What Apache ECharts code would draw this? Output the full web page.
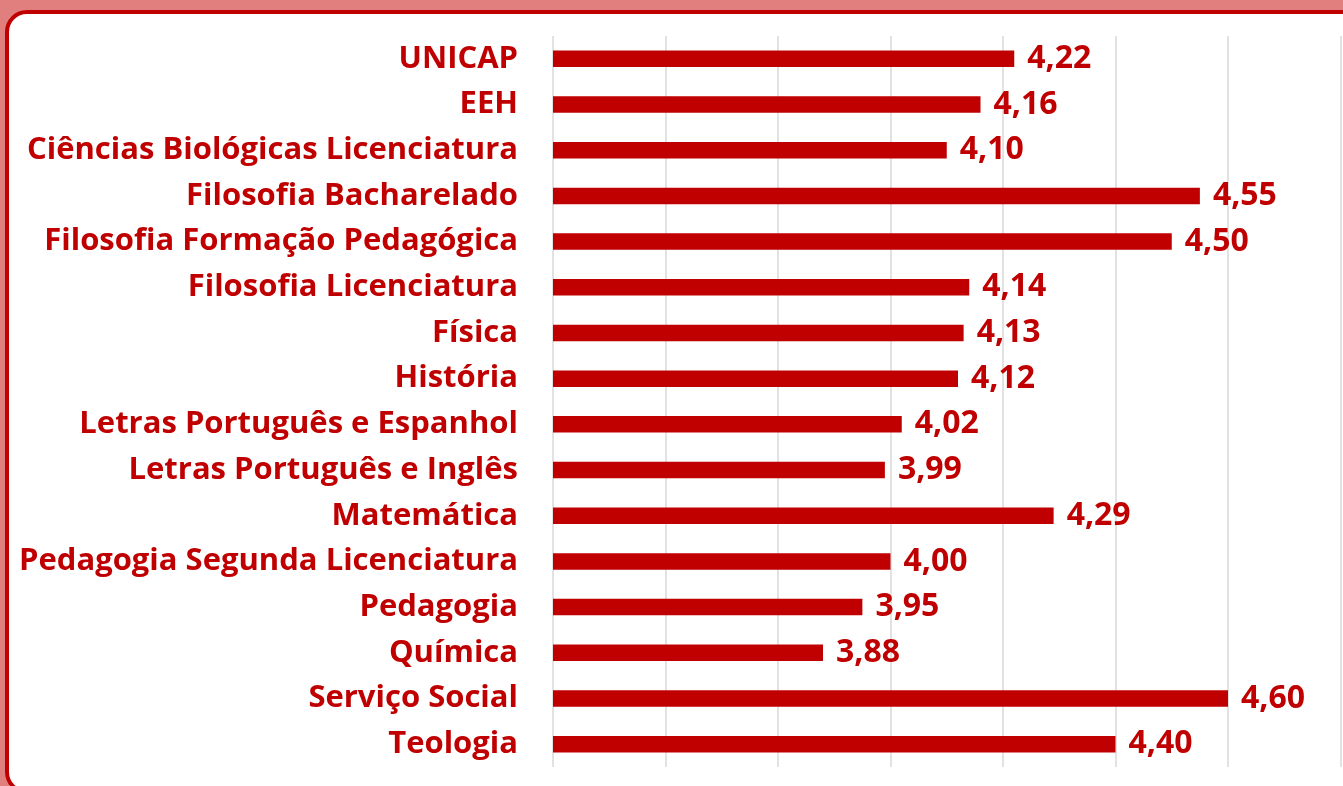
<!DOCTYPE html>
<html>
<head>
<meta charset="utf-8">
<script src="https://cdn.jsdelivr.net/npm/echarts@6/dist/echarts.min.js"></script>
<style>
  html, body { margin: 0; padding: 0; width: 1343px; height: 786px; overflow: hidden; background: #e17e7e; }
  #frame { position: absolute; left: 5px; top: 10px; width: 1400px; height: 784px; background: #fff;
           border: 4px solid #c00000; border-radius: 22px; box-sizing: border-box; }
  #chart { position: absolute; left: 0; top: 0; width: 1343px; height: 786px; }
</style>
</head>
<body>
<div id="frame"></div>
<div id="chart"></div>
<script>
// cursos (de cima para baixo)
var cursos = ["UNICAP", "EEH", "Ciências Biológicas Licenciatura", "Filosofia Bacharelado",
  "Filosofia Formação Pedagógica", "Filosofia Licenciatura", "Física", "História",
  "Letras Português e Espanhol", "Letras Português e Inglês", "Matemática",
  "Pedagogia Segunda Licenciatura", "Pedagogia", "Química", "Serviço Social", "Teologia"];
var medias = [4.22, 4.16, 4.10, 4.55, 4.50, 4.14, 4.13, 4.12, 4.02, 3.99, 4.29, 4.00, 3.95, 3.88, 4.60, 4.40];

var eixoMin = 3.4, eixoMax = 4.8, eixoPasso = 0.2;
var vermelho = "#c00000";
var fonte = "'Open Sans', 'Noto Sans', sans-serif";

var myChart = echarts.init(document.getElementById("chart"));
myChart.setOption({
  animation: false,
  grid: { left: 553, top: 36, width: 787.5, height: 731, containLabel: false },
  xAxis: {
    type: "value",
    min: eixoMin, max: eixoMax, interval: eixoPasso,
    axisLabel: { show: false },
    axisLine: { show: false },
    axisTick: { show: false },
    splitLine: { show: true, lineStyle: { color: "#d9d9d9", width: 1.5 } }
  },
  yAxis: {
    type: "category",
    inverse: true,
    data: cursos,
    axisLine: { show: false },
    axisTick: { show: false },
    axisLabel: { color: vermelho, fontSize: 31, fontWeight: "bold", fontFamily: fonte, margin: 35 }
  },
  series: [{
    type: "bar",
    data: medias,
    barWidth: "36%",
    itemStyle: { color: vermelho },
    label: {
      show: true, position: "right", distance: 13,
      color: vermelho, fontSize: 32, fontWeight: "bold", fontFamily: fonte,
      formatter: function (p) { return p.value.toFixed(2).replace(".", ","); }
    }
  }]
});
</script>
</body>
</html>
